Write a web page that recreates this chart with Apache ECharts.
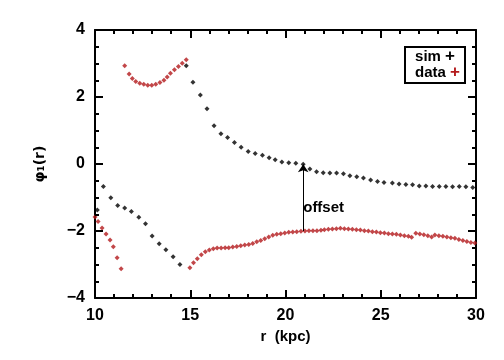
<!DOCTYPE html>
<html>
<head>
<meta charset="utf-8">
<script src="https://cdn.jsdelivr.net/npm/echarts@6/dist/echarts.min.js"></script>
<style>
  html, body { margin: 0; padding: 0; background: #fff; }
  #chart { width: 504px; height: 360px; }
</style>
</head>
<body>
<div id="chart"></div>
<script>
// sim (black) points
var simR = [10.12, 10.44, 10.83, 11.19, 11.56, 11.91, 12.30, 12.65, 13.00, 13.37, 13.72, 14.10, 14.46,
  14.79, 15.14, 15.53, 15.88, 16.25, 16.61, 16.96, 17.32, 17.67, 18.04, 18.41, 18.79, 19.14, 19.46,
  19.81, 20.17, 20.54, 20.93, 21.28, 21.63, 21.98, 22.33, 22.68, 23.04, 23.38, 23.74, 24.09, 24.47,
  24.83, 25.17, 25.61, 25.96, 26.32, 26.67, 27.02, 27.37, 27.72, 28.07, 28.42, 28.77, 29.12, 29.47, 29.83]
var simPhi = [-1.37, -0.67, -1.01, -1.24, -1.31, -1.42, -1.59, -1.78, -2.15, -2.38, -2.56, -2.77, -3.00,
  2.93, 2.44, 2.06, 1.65, 1.14, 0.90, 0.79, 0.64, 0.50, 0.37, 0.31, 0.26, 0.19, 0.13,
  0.06, 0.04, 0.02, -0.01, -0.15, -0.23, -0.26, -0.27, -0.27, -0.29, -0.35, -0.38, -0.42, -0.48,
  -0.52, -0.55, -0.57, -0.60, -0.61, -0.62, -0.66, -0.66, -0.67, -0.67, -0.67, -0.68, -0.67, -0.68, -0.70]

// data (red) points
var dataR = [10.00, 10.16, 10.37, 10.58, 10.79, 10.96, 11.16, 11.37,
  11.56, 11.79, 11.96, 12.14, 12.35, 12.56, 12.77, 12.98, 13.19, 13.41, 13.62, 13.79, 13.96, 14.17, 14.38, 14.58, 14.79,
  14.98, 15.17, 15.37, 15.58, 15.79, 16.00, 16.21, 16.41, 16.62, 16.83, 17.02, 17.23, 17.44, 17.65, 17.86, 18.07,
  18.28, 18.49, 18.70, 18.91, 19.12, 19.33, 19.54, 19.75, 19.96, 20.17, 20.38, 20.59, 20.81, 21.02, 21.23, 21.44,
  21.65, 21.86, 22.04, 22.25, 22.46, 22.67, 22.88, 23.09, 23.30, 23.51, 23.72, 23.93, 24.14, 24.35, 24.56, 24.77,
  24.98, 25.19, 25.40, 25.61, 25.82, 26.03, 26.24, 26.45, 26.62, 26.84, 27.05, 27.26, 27.47, 27.67, 27.84, 28.05,
  28.26, 28.47, 28.68, 28.89, 29.10, 29.31, 29.52, 29.73, 29.94]
var dataPhi = [-1.58, -1.72, -1.91, -2.09, -2.27, -2.47, -2.80, -3.13,
  2.93, 2.69, 2.55, 2.46, 2.41, 2.38, 2.35, 2.35, 2.38, 2.43, 2.50, 2.60, 2.71, 2.81, 2.91, 3.01, 3.11,
  -3.10, -2.95, -2.83, -2.71, -2.62, -2.57, -2.53, -2.51, -2.51, -2.50, -2.50, -2.48, -2.46, -2.44, -2.42, -2.40,
  -2.37, -2.32, -2.28, -2.23, -2.18, -2.13, -2.10, -2.08, -2.06, -2.04, -2.03, -2.02, -2.01, -2.00, -1.99, -1.99,
  -1.99, -1.98, -1.96, -1.95, -1.94, -1.93, -1.92, -1.93, -1.94, -1.95, -1.96, -1.97, -1.99, -2.00, -2.02, -2.03,
  -2.05, -2.06, -2.08, -2.09, -2.10, -2.12, -2.14, -2.16, -2.19, -2.07, -2.09, -2.11, -2.14, -2.18, -2.12, -2.14,
  -2.16, -2.18, -2.20, -2.22, -2.25, -2.28, -2.31, -2.34, -2.36]

// frame tick positions (major every 5 in r, every 2 in phi)
var xTicks = [10, 11, 12, 13, 14, 15, 16, 17, 18, 19, 20, 21, 22, 23, 24, 25, 26, 27, 28, 29, 30]
var yTicks = [-4, -3.5, -3, -2.5, -2, -1.5, -1, -0.5, 0, 0.5, 1, 1.5, 2, 2.5, 3, 3.5, 4]

// offset arrow
var offsetR = 20.93
var offsetFrom = -2.0
var offsetTo = -0.01
var offsetLabelPhi = -1.3

var X_MIN = 10, X_MAX = 30, Y_MIN = -4, Y_MAX = 4
var RED = '#b3191b'
var FONT = 'Liberation Sans'

// tick lengths in axis units (about 8 px major / 4 px minor in this box)
var X_TICK_LEN = 0.24   // phi units, for ticks on the r axes
var Y_TICK_LEN = 0.42   // r units, for ticks on the phi axes

function pairs(xs, ys) {
  return xs.map(function(x, i) { return [x, ys[i]] })
}

// frame ticks as marker segments so they are drawn through the axes' scales
function frameTicks() {
  var segs = []
  xTicks.forEach(function(v) {
    var len = v % 5 === 0 ? X_TICK_LEN : X_TICK_LEN / 2
    segs.push([{ coord: [v, Y_MIN] }, { coord: [v, Y_MIN + len] }])
    segs.push([{ coord: [v, Y_MAX] }, { coord: [v, Y_MAX - len] }])
  })
  yTicks.forEach(function(v) {
    var len = v % 2 === 0 ? Y_TICK_LEN : Y_TICK_LEN / 2
    segs.push([{ coord: [X_MIN, v] }, { coord: [X_MIN + len, v] }])
    segs.push([{ coord: [X_MAX, v] }, { coord: [X_MAX - len, v] }])
  })
  return segs
}

function frameAxis(pos, min, max) {
  return {
    type: 'value',
    position: pos,
    min: min,
    max: max,
    axisLine: { show: true, onZero: false, lineStyle: { color: '#000', width: 2 } },
    axisTick: { show: false },
    splitLine: { show: false },
    axisLabel: { show: false }
  }
}

var xBottom = frameAxis('bottom', X_MIN, X_MAX)
xBottom.interval = 5
xBottom.axisLabel = { show: true, color: '#000', fontFamily: FONT, fontWeight: 'bold', fontSize: 16, margin: 10 }
xBottom.name = 'r  (kpc)'
xBottom.nameLocation = 'middle'
xBottom.nameGap = 24
xBottom.nameTextStyle = { color: '#000', fontFamily: FONT, fontWeight: 'bold', fontSize: 15 }

var yLeft = frameAxis('left', Y_MIN, Y_MAX)
yLeft.interval = 2
yLeft.axisLabel = {
  show: true, color: '#000', fontFamily: FONT, fontWeight: 'bold', fontSize: 16, margin: 10,
  formatter: function(v) { return String(v).replace('-', '\u2212') }
}
yLeft.name = '\u03c6\u2081(r)'
yLeft.nameLocation = 'middle'
yLeft.nameGap = 48
yLeft.nameRotate = 90
yLeft.nameTextStyle = { color: '#000', fontFamily: 'DejaVu Sans', fontWeight: 'bold', fontSize: 14 }

var chart = echarts.init(document.getElementById('chart'))

chart.setOption({
  animation: false,
  grid: { left: 95, right: 28, top: 30, bottom: 62 },
  xAxis: [xBottom, frameAxis('top', X_MIN, X_MAX)],
  yAxis: [yLeft, frameAxis('right', Y_MIN, Y_MAX)],
  series: [
    {
      name: 'sim',
      type: 'scatter',
      symbol: 'diamond',
      symbolSize: 5,
      itemStyle: { color: '#000' },
      data: pairs(simR, simPhi),
      markLine: {
        silent: true,
        symbol: ['none', 'arrow'],
        symbolSize: 8,
        lineStyle: { color: '#000', width: 1, type: 'solid' },
        label: { show: false },
        data: [[{ coord: [offsetR, offsetFrom] }, { coord: [offsetR, offsetTo] }]]
      },
      markPoint: {
        silent: true,
        symbol: 'circle',
        symbolSize: 0,
        label: {
          show: true,
          position: 'right',
          distance: 0,
          formatter: 'offset',
          color: '#000',
          fontFamily: FONT,
          fontWeight: 'bold',
          fontSize: 15
        },
        data: [{ coord: [offsetR, offsetLabelPhi] }]
      }
    },
    {
      name: 'data',
      type: 'scatter',
      symbol: 'diamond',
      symbolSize: 5,
      itemStyle: { color: RED },
      data: pairs(dataR, dataPhi),
      markLine: {
        silent: true,
        symbol: ['none', 'none'],
        lineStyle: { color: '#000', width: 2, type: 'solid', opacity: 1 },
        emphasis: { disabled: true },
        label: { show: false },
        data: frameTicks()
      }
    }
  ],
  graphic: [
    {
      type: 'rect',
      left: 404,
      top: 46,
      shape: { width: 60, height: 36 },
      style: { fill: '#fff', stroke: '#000', lineWidth: 2 }
    },
    {
      type: 'text',
      right: 44,
      top: 48,
      style: {
        text: 'sim {k|+}\ndata {r|+}',
        align: 'right',
        font: 'bold 15px ' + FONT,
        fill: '#000',
        lineHeight: 16,
        rich: {
          k: { fill: '#000', font: 'bold 17px ' + FONT, lineHeight: 16 },
          r: { fill: RED, font: 'bold 17px ' + FONT, lineHeight: 16 }
        }
      }
    }
  ]
})
</script>
</body>
</html>
